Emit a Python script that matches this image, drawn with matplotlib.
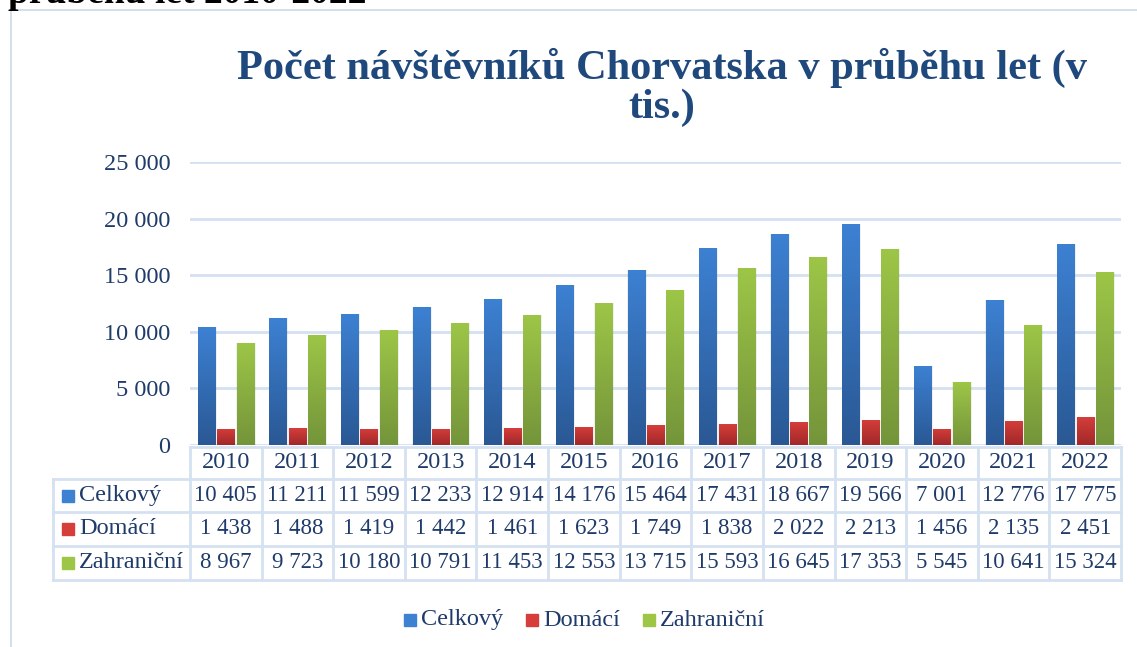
import numpy as np
import matplotlib.pyplot as plt
import matplotlib.transforms as mtransforms
from matplotlib.colors import LinearSegmentedColormap
from matplotlib.patches import Rectangle

years = ["2010", "2011", "2012", "2013", "2014", "2015", "2016",
         "2017", "2018", "2019", "2020", "2021", "2022"]
celkovy = [10405, 11211, 11599, 12233, 12914, 14176, 15464,
           17431, 18667, 19566, 7001, 12776, 17775]
domaci = [1438, 1488, 1419, 1442, 1461, 1623, 1749,
          1838, 2022, 2213, 1456, 2135, 2451]
zahranicni = [8967, 9723, 10180, 10791, 11453, 12553, 13715,
              15593, 16645, 17353, 5545, 10641, 15324]
series_names = ["Celkový", "Domácí", "Zahraniční"]
series_vals = [celkovy, domaci, zahranicni]
# (top colour, bottom colour) of the gradient fill
series_cols = [("#3d81d3", "#2a5894"), ("#d53e3b", "#a02828"), ("#9dc647", "#74943a")]

W, H = 1137, 647
navy = "#1f3b6a"
grid_col = "#d5e1f1"
serif = ["Liberation Serif", "DejaVu Serif"]
fs = 17.5
fs_num = 16.5

fig = plt.figure(figsize=(W / 100, H / 100), dpi=100)

def fx(px):
    return px / W

def fy(py):
    return 1 - py / H

# chart frame and the clipped caption above it
fig.add_artist(plt.Line2D([fx(11), fx(11)], [fy(10), fy(647)], color="#ccd9ea", lw=1.2))
fig.add_artist(plt.Line2D([fx(11), fx(1137)], [fy(10), fy(10)], color="#ccd9ea", lw=1.2))
fig.text(fx(8), fy(3), "průběhu let 2010-2022", family=serif, fontsize=27,
         fontweight="bold", color="black", va="baseline", ha="left")

fig.text(fx(662), fy(68), "Počet návštěvníků Chorvatska v průběhu let (v",
         family=serif, fontsize=30.5, fontweight="bold", color="#1f497d",
         ha="center", va="center")
fig.text(fx(662), fy(108), "tis.)", family=serif, fontsize=30.5, fontweight="bold",
         color="#1f497d", ha="center", va="center")

ax = fig.add_axes([fx(190), fy(445), fx(1121) - fx(190), (445 - 162) / H])
x = np.arange(len(years))
ax.set_xlim(-0.5, len(years) - 0.5)
ax.set_ylim(0, 25000)
ax.set_yticks(np.arange(0, 25001, 5000))
ax.set_yticklabels([f"{v:,}".replace(",", " ") for v in range(0, 25001, 5000)])
ax.tick_params(axis="y", length=0, pad=14, labelsize=fs, labelcolor=navy)
for lab in ax.get_yticklabels():
    lab.set_family(serif)
ax.set_xticks([])
ax.grid(axis="y", color=grid_col, lw=2)
ax.set_axisbelow(True)
for s in ax.spines.values():
    s.set_visible(False)

bw = 0.24
offsets = [-0.27, 0.0, 0.27]
grad = np.linspace(1, 0, 256).reshape(-1, 1)
for vals, off, (top, bot) in zip(series_vals, offsets, series_cols):
    # soft shadow
    ax.bar(x + off + 0.01, vals, width=bw + 0.03, color="#000000", alpha=0.06, zorder=2)
    bars = ax.bar(x + off, vals, width=bw, color=top, zorder=3)
    cmap = LinearSegmentedColormap.from_list("g", [bot, top])
    for b in bars:
        bx, by = b.get_x(), b.get_y()
        im = ax.imshow(grad, cmap=cmap, aspect="auto", zorder=4,
                       extent=(bx, bx + b.get_width(), by, by + b.get_height()),
                       origin="upper", vmin=0, vmax=1)
        im.set_clip_path(b)
ax.set_xlim(-0.5, len(years) - 0.5)
ax.set_ylim(0, 25000)

# data table below the axis
trans = mtransforms.blended_transform_factory(ax.transData, fig.transFigure)
row_edges = [447, 479, 512, 546, 580]
left_px, right_px = 53, 1121
col_lw = 2
# horizontal lines
fig.add_artist(plt.Line2D([fx(190), fx(right_px)], [fy(row_edges[0])] * 2, color=grid_col, lw=col_lw))
for py in row_edges[1:]:
    fig.add_artist(plt.Line2D([fx(left_px), fx(right_px)], [fy(py)] * 2, color=grid_col, lw=col_lw))
# vertical lines
fig.add_artist(plt.Line2D([fx(left_px)] * 2, [fy(row_edges[1]), fy(row_edges[-1])], color=grid_col, lw=col_lw))
for i in range(len(years) + 1):
    ax.add_artist(plt.Line2D([i - 0.5] * 2, [fy(row_edges[0]), fy(row_edges[-1])], transform=trans,
                             color=grid_col, lw=col_lw, clip_on=False))

for i, yr in enumerate(years):
    yc = (row_edges[0] + row_edges[1]) / 2
    ax.text(i, fy(yc), yr, transform=trans, ha="center", va="center",
            family=serif, fontsize=fs, color=navy)
    for r, vals in enumerate(series_vals):
        yc = (row_edges[r + 1] + row_edges[r + 2]) / 2
        ax.text(i, fy(yc), f"{vals[i]:,}".replace(",", " "), transform=trans,
                ha="center", va="center", family=serif, fontsize=fs_num, color=navy)

for r, (name, (top, bot)) in enumerate(zip(series_names, series_cols)):
    yc = (row_edges[r + 1] + row_edges[r + 2]) / 2
    fig.add_artist(Rectangle((fx(62), fy(yc + 6)), fx(12), 12 / H, color=top))
    fig.text(fx(79), fy(yc), name, ha="left", va="center", family=serif,
             fontsize=fs, color=navy)

# legend at the bottom
leg_x = [404, 526, 643]
for name, (top, bot), lx in zip(series_names, series_cols, leg_x):
    fig.add_artist(Rectangle((fx(lx), fy(626)), fx(12), 12 / H, color=top))
    fig.text(fx(lx + 17), fy(620), name, ha="left", va="center", family=serif,
             fontsize=fs, color=navy)

fig.savefig("out.png", dpi=100, facecolor="white")
